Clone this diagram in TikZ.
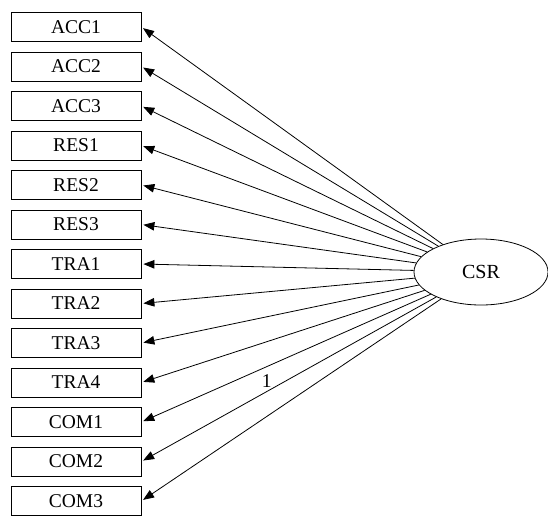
\documentclass[tikz,border=0pt]{standalone}
\usepackage{fontspec}
\setmainfont{Liberation Serif}
\usetikzlibrary{arrows.meta,shapes.geometric}

\tikzset{
  item/.style={draw, line width=0.8pt, minimum width=130pt, minimum height=29pt,
    inner sep=0pt, font=\fontsize{19.5}{19.5}\selectfont},
  factor/.style={draw, ellipse, line width=0.8pt, minimum width=134pt,
    minimum height=66pt, inner sep=0pt, font=\fontsize{20}{20}\selectfont}
}

\begin{document}
\begin{tikzpicture}[x=1pt, y=-1pt, >={Triangle[length=11pt,width=8.5pt]}]
    \useasboundingbox (0,0) rectangle (548,517);

    \node[factor] (csr) at (481,272) {CSR};

    \foreach \name/\lab [count=\i from 0] in {acc1/ACC1, acc2/ACC2, acc3/ACC3,
        res1/RES1, res2/RES2, res3/RES3, tra1/TRA1, tra2/TRA2, tra3/TRA3,
        tra4/TRA4, com1/COM1, com2/COM2, com3/COM3} {
        \node[item] (\name) at (76,27+39.5*\i) {\lab};
        \draw[->, line width=0.8pt, shorten >=2pt] (csr) -- (\name.east);
    }

    \path (csr) -- (com2.east) node[pos=0.575, above=1pt, font=\fontsize{19.5}{19.5}\selectfont] (one) {1};
\end{tikzpicture}
\end{document}
